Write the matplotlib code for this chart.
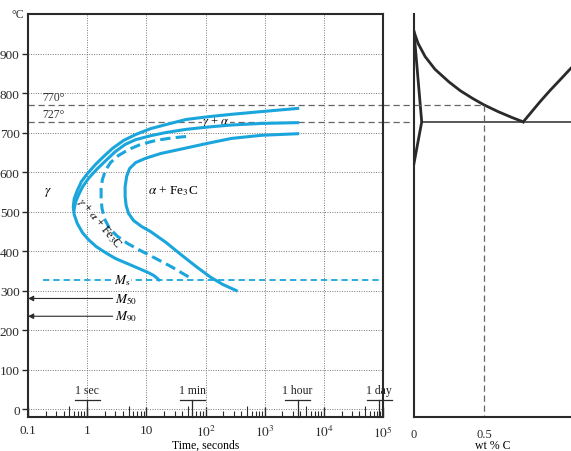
import matplotlib
matplotlib.use('Agg')
import matplotlib.pyplot as plt
import matplotlib.transforms as mtransforms
from matplotlib.ticker import LogLocator, NullFormatter

plt.rcParams['font.family'] = ['Liberation Serif', 'DejaVu Serif']
plt.rcParams['mathtext.fontset'] = 'stix'

# ---------------- data (time in s, temperature in °C) ----------------
ferrite_start_t = [3614, 883, 272, 111, 46.8, 21.4, 11.9, 6.61, 4.13, 2.69, 1.89, 1.38, 1.01, 0.80,
                   0.68, 0.605, 0.582, 0.605, 0.68, 0.83, 1.05, 1.43, 2.04, 3.02, 4.83, 7.43, 10.6,
                   13.4, 15.0, 16.3]
ferrite_start_T = [761, 753, 746, 740, 733, 720, 710, 695, 680, 660, 639, 619, 596, 576,
                   553, 533, 513, 492, 470, 447, 429, 411, 396, 381, 368, 356, 346,
                   338, 332, 327]

pearlite_start_t = [3614, 883, 272, 111, 46.8, 21.4, 11.9, 6.61, 4.4, 2.95, 2.1, 1.5, 1.08,
                    0.84, 0.72, 0.64, 0.60]
pearlite_start_T = [725, 723, 719, 714, 708, 700, 692, 682, 670, 651, 630, 609, 586,
                    563, 543, 525, 505]

half_t = [46.8, 26.0, 14.5, 8.03, 5.02, 3.40, 2.48, 2.04, 1.81, 1.72, 1.72, 1.78, 1.96, 2.39,
          3.27, 4.83, 8.03, 14.5, 26.0, 61.5]
half_T = [690, 686, 680, 670, 657, 642, 624, 604, 581, 558, 533, 508, 482, 457,
          437, 419, 401, 381, 361, 328]

finish_t = [3614, 883, 272, 111, 38.5, 17.6, 9.77, 6.61, 5.22, 4.65, 4.38, 4.38, 4.56, 5.02,
            6.11, 8.35, 11.9, 21.4, 38.5, 69.2, 124, 199, 331]
finish_T = [697, 693, 685, 673, 658, 647, 635, 624, 609, 589, 563, 538, 515, 495,
            477, 462, 449, 422, 391, 361, 333, 315, 300]

Ms_T, M50_T, M90_T = 327, 280, 235
Ms_range_t = [0.18, 1e5]
A3_ref, A1_ref = 770, 727

time_marks = [1, 60, 3600, 86400]
time_names = ['1 sec', '1 min', '1 hour', '1 day']

x_ticks = [0.1, 1, 10, 100, 1e3, 1e4, 1e5]
x_ticklabels = ['0.1', '1', '10', r'$10^2$', r'$10^3$', r'$10^4$', r'$10^5$']
y_ticks = list(range(0, 1000, 100))

# phase diagram (wt % C, °C)
a3_wt = [0.0, 0.03, 0.08, 0.15, 0.25, 0.33, 0.42, 0.50, 0.60, 0.70, 0.78]
a3_T = [955, 925, 892, 860, 828, 806, 786, 770, 753, 738, 727]
acm_wt = [0.78, 0.90, 0.97, 1.05, 1.121]
acm_T = [727, 778, 806, 836, 863]
ferr_wt = [0.0, 0.055, 0.0]
ferr_T = [955, 727, 622]
alloy_wt = 0.5

BLUE = '#1aa6dc'
DARK = '#2a2a2a'
GRAY = '#666666'

fig = plt.figure(figsize=(5.71, 4.52), dpi=100)
ax = fig.add_axes([28/571, 1-418/452, 355/571, 403/452])
ax2 = fig.add_axes([414/571, 1-418/452, 1-414/571, 403/452])

# ---------------- left: TTT diagram ----------------
ax.set_xscale('log')
ax.set_xlim(0.1, 1e5)
ax.set_ylim(-20, 1000)
ax.set_xticks(x_ticks)
ax.set_xticklabels(x_ticklabels)
ax.xaxis.set_minor_locator(LogLocator(base=10, subs=[2, 3, 4, 6, 7, 8, 9], numticks=30))
ax.xaxis.set_minor_formatter(NullFormatter())
ax.set_yticks(y_ticks)
ax.set_yticklabels([str(v) for v in y_ticks])
ax.tick_params(axis='x', which='major', direction='in', length=7, width=1, pad=5, labelsize=9.5, colors=DARK)
ax.tick_params(axis='x', which='minor', direction='in', length=4, width=0.8, colors=DARK)
ax.tick_params(axis='y', direction='out', length=4, width=1, pad=2, labelsize=9.5, colors=DARK)
for s in ax.spines.values():
    s.set_linewidth(1.5)
    s.set_color(DARK)
ax.grid(True, which='major', ls=(0, (1, 1.5)), color='#777777', lw=0.7)
ax.set_axisbelow(True)

# longer ticks at 5 x 10^n
bt = mtransforms.blended_transform_factory(ax.transData, ax.transAxes)
fives = [5 * d for d in x_ticks[:-1]]
ax.vlines(fives, 0, 0.027, transform=bt, color=DARK, lw=0.8)

# reference temperatures
ax.axhline(A3_ref, color=GRAY, ls=(0, (5, 3)), lw=0.9)
ax.axhline(A1_ref, color=GRAY, ls=(0, (5, 3)), lw=0.9)
ax.text(0.175, 791, '770°', fontsize=8.5, va='center', color='#333')
ax.text(0.175, 748, '727°', fontsize=8.5, va='center', color='#333')
ax.text(-0.01, 1.0, '°C', transform=ax.transAxes, ha='right', va='center', fontsize=8.5, color='#333')

# transformation curves
kw = dict(color=BLUE, lw=2.2, zorder=3, solid_joinstyle='round')
ax.plot(ferrite_start_t, ferrite_start_T, **kw)
ax.plot(pearlite_start_t, pearlite_start_T, **kw)
ax.plot(half_t, half_T, ls=(0, (3.4, 1.7)), **kw)
ax.plot(finish_t, finish_T, **kw)

# martensite lines
ax.plot(Ms_range_t, [Ms_T, Ms_T], color=BLUE, lw=1.3, ls=(0, (3.5, 2.2)))
ax.text(3.9, Ms_T, r'$M_{\mathrm{s}}$', ha='center', va='center', fontsize=9.5,
        bbox=dict(facecolor='white', edgecolor='none', pad=0.5))
for tv, lab in [(M50_T, r'$M_{50}$'), (M90_T, r'$M_{90}$')]:
    ax.annotate('', xy=(0.1, tv), xytext=(2.7, tv),
                arrowprops=dict(arrowstyle='-|>', color=DARK, lw=0.8, mutation_scale=8, shrinkA=0, shrinkB=0))
    ax.text(3.0, tv, lab, ha='left', va='center', fontsize=9.5)

# region labels
ax.text(0.19, 552, r'$\gamma$', fontsize=9.5, va='center')
ax.text(28, 555, r'$\alpha$ + Fe$_3$C', ha='center', va='center', fontsize=9.5)
ax.text(150, 729, r'$\gamma$ + $\alpha$', ha='center', va='center', fontsize=9, zorder=2.5,
        bbox=dict(facecolor='white', edgecolor='none', pad=0.2))
ax.text(1.6, 474, r'$\gamma$ + $\alpha$ + Fe$_3$C', rotation=-50, rotation_mode='anchor',
        ha='center', va='center', fontsize=8.5)

# time markers
for t, name in zip(time_marks, time_names):
    ax.plot([t, t], [-20, 24], color=DARK, lw=0.9, clip_on=False)
    ax.plot([t / 10**0.21, t * 10**0.21], [24, 24], color=DARK, lw=0.9, clip_on=False)
    ax.text(t, 49, name, ha='center', va='center', fontsize=8.5, color='#222')

ax.set_xlabel('Time, seconds', fontsize=8.5, labelpad=-1)

# ---------------- right: phase diagram ----------------
ax2.set_xlim(0, 1.121)
ax2.set_ylim(-20, 1000)
ax2.spines['top'].set_visible(False)
ax2.spines['right'].set_visible(False)
for k in ('left', 'bottom'):
    ax2.spines[k].set_linewidth(1.5)
    ax2.spines[k].set_color(DARK)
ax2.set_yticks([])
ax2.set_xticks([0, 0.5])
ax2.set_xticklabels(['0', '0.5'])
ax2.tick_params(axis='x', length=0, pad=8, labelsize=9, colors=DARK)
ax2.set_xlabel('wt % C', fontsize=8.5, labelpad=-1)

ax2.plot(a3_wt, a3_T, color=DARK, lw=2)
ax2.plot(acm_wt, acm_T, color=DARK, lw=2)
ax2.plot(ferr_wt, ferr_T, color=DARK, lw=2)
ax2.plot([ferr_wt[1], acm_wt[-1]], [A1_ref, A1_ref], color=DARK, lw=1.1)
ax2.plot([0, alloy_wt], [A3_ref, A3_ref], color=GRAY, ls=(0, (5, 3)), lw=0.9)
ax2.plot([alloy_wt, alloy_wt], [A3_ref, -20], color=GRAY, ls=(0, (5, 3)), lw=0.9)

# dashed lines bridging the gap between the panels
gt = mtransforms.blended_transform_factory(fig.transFigure, ax.transData)
x_a, x_b = ax.get_position().x1, ax2.get_position().x0
for tv in (A3_ref, A1_ref):
    ax.plot([x_a, x_b], [tv, tv], transform=gt, color=GRAY, ls=(0, (5, 3)), lw=0.9, clip_on=False)

fig.savefig('out.png', dpi=100)
